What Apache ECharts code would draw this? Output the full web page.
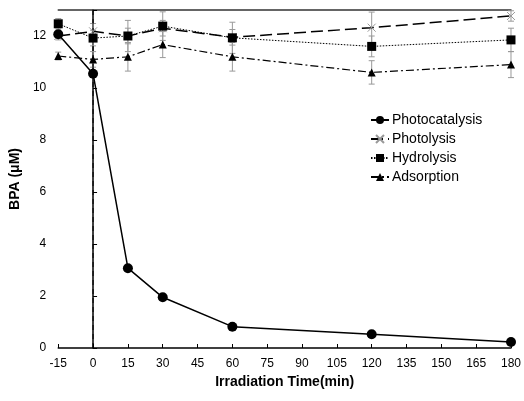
<!DOCTYPE html>
<html><head><meta charset="utf-8">
<script src="https://cdn.jsdelivr.net/npm/echarts@6/dist/echarts.min.js"></script>
<style>html,body{margin:0;padding:0;background:#fff}#c{width:524px;height:401px}</style>
</head><body><div id="c"></div>
<script>
const times = [-15, 0, 15, 30, 60, 120, 180];
const photocatalysis = [12.07, 10.55, 3.07, 1.95, 0.82, 0.53, 0.23];
const photolysis = [12.0, 12.18, 12.0, 12.3, 11.95, 12.32, 12.77];
const hydrolysis = [12.47, 11.92, 12.0, 12.38, 11.93, 11.6, 11.85];
const adsorption = [11.23, 11.1, 11.2, 11.67, 11.2, 10.6, 10.9];
const photolysisErr = [0.15, 0.3, 0.3, 0.3, 0.3, 0.6, 0.2];
const hydrolysisErr = [0.2, 0.3, 0.6, 0.55, 0.6, 0.4, 0.45];
const adsorptionErr = [0.15, 0.3, 0.55, 0.5, 0.55, 0.45, 0.5];
const lightOnTime = 0;
const xTicks = {min: -15, max: 180, interval: 15};
const yTicks = {min: 0, max: 13, interval: 2};

function pairs(vals){ return times.map((t,i)=>[t, vals[i]]); }
function errData(vals, errs){ return times.map((t,i)=>[t, vals[i]-errs[i], vals[i]+errs[i]]); }
function errSeries(vals, errs){
  return {
    type:'custom', z:1, silent:true,
    data: errData(vals, errs),
    renderItem: function(params, api){
      const x = api.value(0);
      const lo = api.coord([x, api.value(1)]);
      const hi = api.coord([x, api.value(2)]);
      const w = 3;
      const st = {stroke:'#999', lineWidth:1};
      return {type:'group', children:[
        {type:'line', shape:{x1:lo[0],y1:lo[1],x2:hi[0],y2:hi[1]}, style:st},
        {type:'line', shape:{x1:lo[0]-w,y1:lo[1],x2:lo[0]+w,y2:lo[1]}, style:st},
        {type:'line', shape:{x1:hi[0]-w,y1:hi[1],x2:hi[0]+w,y2:hi[1]}, style:st}
      ]};
    }
  };
}

const chart = echarts.init(document.getElementById('c'), null, {renderer:'canvas'});
const font = 'Arial, "Liberation Sans", sans-serif';
chart.setOption({
  animation:false,
  backgroundColor:'#fff',
  grid:{left:56, right:11, top:10, bottom:53},
  legend:{
    left:365, top:108, orient:'vertical', itemGap:5, itemWidth:18, itemHeight:10,
    textStyle:{fontFamily:font, fontSize:14, color:'#000', padding:[0,0,0,-2]},
    data:['Photocatalysis','Photolysis','Hydrolysis','Adsorption']
  },
  xAxis:[{
    type:'value', min:xTicks.min, max:xTicks.max, interval:xTicks.interval,
    name:'Irradiation Time(min)', nameLocation:'middle', nameGap:23,
    nameTextStyle:{fontFamily:font, fontSize:14, fontWeight:'bold', color:'#000'},
    axisLine:{lineStyle:{color:'#000', width:1.5}},
    axisTick:{inside:true, length:4, lineStyle:{color:'#000'}},
    axisLabel:{fontFamily:font, fontSize:12, color:'#000', margin:10},
    splitLine:{show:false}
  },{
    type:'value', position:'top', min:xTicks.min, max:xTicks.max,
    axisLine:{show:true, lineStyle:{color:'#333', width:1.5}},
    axisTick:{show:false}, axisLabel:{show:false}, splitLine:{show:false}
  }],
  yAxis:{
    type:'value', min:yTicks.min, max:yTicks.max, interval:yTicks.interval,
    name:'BPA (\u03bcM)', nameLocation:'middle', nameGap:29,
    nameTextStyle:{fontFamily:font, fontSize:14, fontWeight:'bold', color:'#000'},
    axisLine:{show:true, lineStyle:{color:'#000', width:1.5}},
    axisTick:{inside:true, length:4, lineStyle:{color:'#000'}},
    axisLabel:{fontFamily:font, fontSize:12, color:'#000', margin:12,
      formatter: v => (v % 2 === 0 ? String(v) : '')},
    splitLine:{show:false}
  },
  series:[
    {
      type:'line', z:2, silent:true, symbol:'none',
      data:[[lightOnTime, yTicks.min],[lightOnTime, yTicks.max]],
      lineStyle:{color:'#000', width:1, type:[5,4]}
    },
    errSeries(photolysis, photolysisErr),
    errSeries(hydrolysis, hydrolysisErr),
    errSeries(adsorption, adsorptionErr),
    {
      name:'Photocatalysis', type:'line', z:5, data:pairs(photocatalysis),
      symbol:'circle', symbolSize:10,
      lineStyle:{color:'#000', width:1.5}, itemStyle:{color:'#000'}
    },
    {
      name:'Photolysis', type:'line', z:4, data:pairs(photolysis),
      symbol:'path://M0,0L10,10M10,0L0,10', symbolSize:8,
      lineStyle:{color:'#000', width:1.5, type:[12,5]},
      itemStyle:{color:'rgba(0,0,0,0)', borderColor:'#999', borderWidth:1}
    },
    {
      name:'Hydrolysis', type:'line', z:4, data:pairs(hydrolysis),
      symbol:'rect', symbolSize:9,
      lineStyle:{color:'#000', width:1, type:[1.5,1.5]}, itemStyle:{color:'#000'}
    },
    {
      name:'Adsorption', type:'line', z:4, data:pairs(adsorption),
      symbol:'triangle', symbolSize:8,
      lineStyle:{color:'#000', width:1.2, type:[8,3,2,3]}, itemStyle:{color:'#000'}
    }
  ]
});
</script></body></html>
